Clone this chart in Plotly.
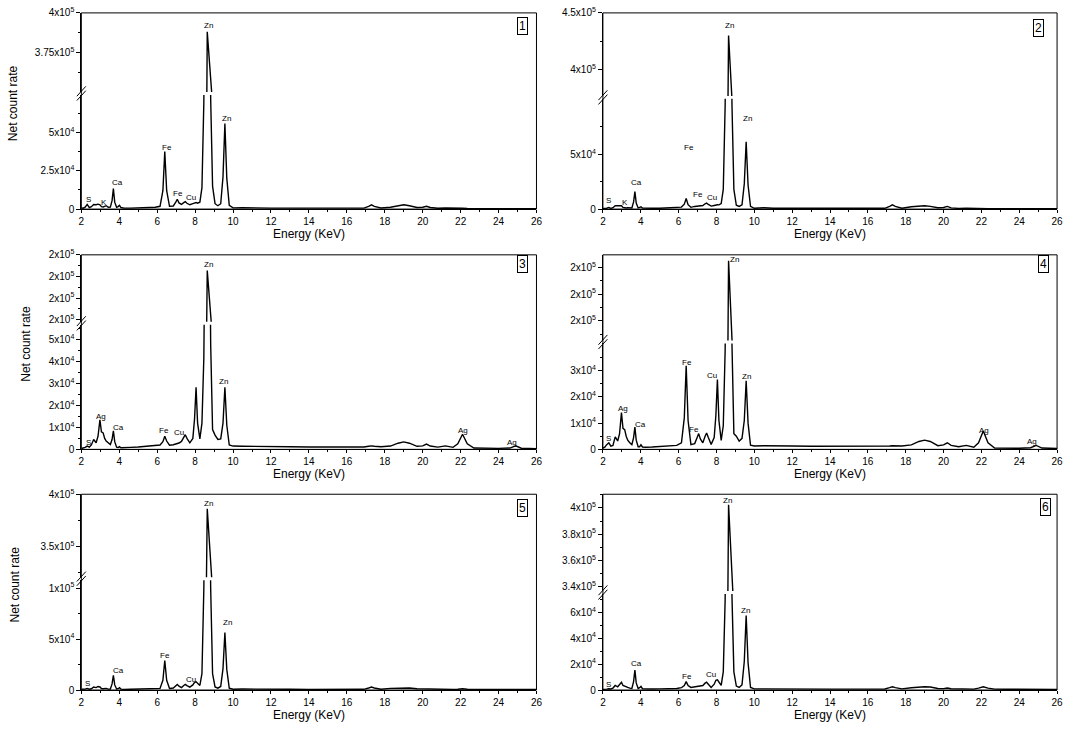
import plotly.graph_objects as go

# ---------------- data ----------------
energy = [2.00, 2.10, 2.20, 2.31, 2.42, 2.53, 2.65, 2.78, 2.88, 2.98,
          3.06, 3.15, 3.23, 3.31, 3.42, 3.53, 3.62, 3.69, 3.76, 3.86,
          3.94, 4.01, 4.09, 4.25, 4.60, 5.00, 5.50, 5.90, 6.15, 6.30,
          6.40, 6.50, 6.65, 6.85, 6.98, 7.06, 7.15, 7.28, 7.40, 7.48,
          7.57, 7.72, 7.88, 7.97, 8.05, 8.13, 8.25, 8.36, 8.46, 8.55,
          8.64, 8.73, 8.82, 8.92, 9.05, 9.20, 9.35, 9.47, 9.57, 9.67,
          9.80, 10.0, 10.5, 11.0, 12.0, 13.0, 14.0, 15.0, 16.0, 16.9,
          17.15, 17.3, 17.45, 17.8, 18.3, 18.7, 19.0, 19.3, 19.7, 20.0,
          20.2, 20.4, 20.8, 21.2, 21.6, 21.85, 22.1, 22.35, 22.7, 23.3,
          24.0, 24.6, 24.9, 25.2, 26.0]

counts_1 = [800, 600, 1200, 3000, 1000, 1500, 3000, 2800, 3200, 2800,
            1600, 1400, 1800, 2200, 1200, 1300, 5500, 13300, 4500, 1200,
            1600, 2400, 1000, 600, 600, 700, 800, 1200, 1800, 12000,
            37500, 12000, 1800, 2000, 4500, 6400, 4000, 3000, 4200, 4900,
            3800, 2800, 3500, 4200, 4300, 3800, 4500, 14000, 70000, 230000,
            388000, 230000, 72000, 15000, 3500, 2200, 3500, 21000, 55800, 20000,
            2500, 800, 900, 700, 600, 600, 500, 600, 500, 600,
            1800, 2800, 1800, 700, 1200, 2200, 2800, 2200, 1000, 1200,
            1800, 1000, 500, 700, 400, 400, 500, 400, 300, 300,
            300, 300, 300, 300, 300]

counts_2 = [600, 500, 800, 1500, 600, 1200, 3000, 3000, 2800, 3000,
            1500, 1000, 1000, 1300, 800, 1000, 6500, 16000, 5500, 1000,
            1500, 2100, 900, 700, 700, 800, 1200, 1500, 1800, 4500,
            9700, 4000, 1600, 2400, 2800, 3000, 2800, 3200, 4800, 5400,
            4200, 2700, 3300, 3800, 3900, 3800, 5000, 18000, 95000, 260000,
            430000, 260000, 95000, 18000, 3500, 2400, 3800, 23000, 61500, 22000,
            2500, 700, 1200, 800, 700, 700, 600, 700, 600, 700,
            2500, 3900, 2500, 800, 2100, 2600, 3000, 2500, 1200, 1400,
            2400, 1100, 600, 900, 500, 400, 500, 400, 300, 300,
            300, 300, 300, 300, 300]

counts_3 = [400, 500, 900, 1500, 1000, 2000, 4500, 3000, 6000, 13500,
            8000, 7500, 5000, 3800, 3000, 2200, 4500, 8500, 3500, 1000,
            800, 1200, 700, 700, 900, 1100, 1400, 1700, 2000, 3500,
            6000, 3800, 1900, 2100, 2400, 2600, 2900, 3600, 5800, 6700,
            5000, 3000, 5000, 14000, 28400, 12000, 4800, 12000, 42000, 140000,
            212700, 140000, 48000, 9000, 6500, 4500, 4800, 12000, 28400, 11000,
            2000, 1500, 1400, 1300, 1200, 1200, 1100, 1100, 1000, 1100,
            1400, 1600, 1400, 1200, 1500, 2800, 3400, 2800, 1400, 1600,
            2400, 1500, 1000, 1600, 900, 2500, 6900, 2500, 600, 450,
            450, 600, 1600, 500, 300]

counts_4 = [500, 800, 1800, 2500, 1200, 1500, 4750, 3200, 6000, 14000,
            8000, 7500, 5000, 3500, 2500, 1800, 4500, 8500, 3500, 1000,
            1000, 1750, 900, 800, 900, 1000, 1200, 1500, 2500, 12000,
            31900, 11000, 1800, 2200, 4500, 6000, 4000, 2500, 5000, 6250,
            4500, 1900, 4500, 13000, 26600, 11000, 3400, 9000, 38000, 140000,
            222500, 140000, 40000, 6000, 5000, 3100, 4200, 11000, 26200, 10000,
            1600, 1300, 1400, 1300, 1300, 1200, 1200, 1200, 1100, 1100,
            1300, 1400, 1300, 1300, 1700, 3000, 3500, 3000, 1400, 1700,
            2500, 1500, 1000, 1500, 800, 2500, 7000, 2500, 500, 400,
            400, 600, 1500, 500, 300]

counts_5 = [700, 500, 900, 1600, 800, 1200, 2900, 2400, 3500, 3000,
            1500, 1300, 1400, 1600, 900, 1000, 6000, 14500, 5000, 1000,
            1300, 2260, 900, 600, 700, 800, 1000, 1100, 1600, 9500,
            29000, 9500, 1600, 2000, 4200, 5500, 3800, 2400, 4500, 5500,
            4300, 2800, 5000, 7500, 8000, 6500, 4500, 16000, 100000, 260000,
            386000, 260000, 100000, 16000, 3000, 1800, 3500, 21000, 56500, 20000,
            1800, 800, 1000, 800, 700, 700, 600, 600, 600, 700,
            2000, 2900, 2000, 800, 1600, 2000, 2250, 2000, 1200, 1000,
            1300, 900, 700, 700, 600, 800, 1300, 800, 600, 600,
            600, 600, 600, 600, 500]

counts_6 = [500, 400, 700, 1000, 800, 1500, 3500, 2500, 4500, 6000,
            3500, 2800, 2500, 2000, 1500, 1200, 6500, 15400, 5500, 1200,
            1800, 2800, 1000, 800, 800, 900, 1000, 1200, 1800, 3500,
            6500, 3500, 2000, 2400, 2700, 2800, 2900, 3500, 5300, 6000,
            4500, 2000, 4500, 7500, 7800, 6000, 3500, 14000, 70000, 250000,
            402500, 250000, 72000, 14000, 3000, 2000, 4000, 22000, 57500, 21000,
            2000, 900, 900, 800, 800, 800, 700, 700, 700, 800,
            1800, 2500, 1800, 900, 1800, 2300, 2500, 2300, 1200, 1100,
            1500, 1000, 800, 1000, 700, 1500, 2500, 1500, 700, 600,
            600, 600, 700, 600, 500]

all_counts = [counts_1, counts_2, counts_3, counts_4, counts_5, counts_6]
for c in all_counts:
    assert len(c) == len(energy), len(c)

# axis ranges of the broken axes
lower_range = [[0, 74500], [0, 100700], [0, 56900], [0, 40400], [0, 107800], [0, 74100]]
upper_range = [[350000, 400000], [376300, 450000], [189000, 220000],
               [192600, 224700], [320300, 400000], [336600, 410500]]

# tick values / labels
lower_ticks = [[0, 25000, 50000], [0, 50000], [0, 10000, 20000, 30000, 40000, 50000],
               [0, 10000, 20000, 30000], [0, 50000, 100000], [0, 20000, 40000, 60000]]
lower_text = [["0", "2.5x10<sup>4</sup>", "5x10<sup>4</sup>"],
              ["0", "5x10<sup>4</sup>"],
              ["0", "1x10<sup>4</sup>", "2x10<sup>4</sup>", "3x10<sup>4</sup>", "4x10<sup>4</sup>", "5x10<sup>4</sup>"],
              ["0", "1x10<sup>4</sup>", "2x10<sup>4</sup>", "3x10<sup>4</sup>"],
              ["0", "5x10<sup>4</sup>", "1x10<sup>5</sup>"],
              ["0", "2x10<sup>4</sup>", "4x10<sup>4</sup>", "6x10<sup>4</sup>"]]
lower_minor = [[12500, 37500, 62500], [25000, 75000],
               [5000, 15000, 25000, 35000, 45000, 55000],
               [5000, 15000, 25000, 35000], [25000, 75000],
               [10000, 30000, 50000, 70000]]
upper_ticks = [[375000, 400000], [400000, 450000], [190000, 200000, 210000, 220000],
               [200000, 210000, 220000], [350000, 400000], [340000, 360000, 380000, 400000]]
upper_text = [["3.75x10<sup>5</sup>", "4x10<sup>5</sup>"],
              ["4x10<sup>5</sup>", "4.5x10<sup>5</sup>"],
              ["2x10<sup>5</sup>"] * 4,
              ["2x10<sup>5</sup>"] * 3,
              ["3.5x10<sup>5</sup>", "4x10<sup>5</sup>"],
              ["3.4x10<sup>5</sup>", "3.6x10<sup>5</sup>", "3.8x10<sup>5</sup>", "4x10<sup>5</sup>"]]
upper_minor = [[362500, 387500], [425000], [195000, 205000, 215000],
               [195000, 205000, 215000], [325000, 375000],
               [350000, 370000, 390000, 410000]]

x_ticks = list(range(2, 27, 2))
x_minor = list(range(3, 26, 2))

# peak labels: (panel, text, energy, value, segment)
peak_labels = [
    (0, "Zn", 8.73, 392000, "up"), (0, "Zn", 9.67, 59200, "lo"), (0, "Fe", 6.54, 40000, "lo"),
    (0, "Ca", 3.89, 17100, "lo"), (0, "S", 2.36, 6200, "lo"), (0, "K", 3.20, 4100, "lo"),
    (0, "Fe", 7.10, 10000, "lo"), (0, "Cu", 7.78, 7300, "lo"),
    (1, "Zn", 8.70, 438700, "up"), (1, "Zn", 9.62, 83000, "lo"), (1, "Fe", 6.54, 56000, "lo"),
    (1, "Ca", 3.76, 24500, "lo"), (1, "S", 2.32, 8100, "lo"), (1, "K", 3.17, 5700, "lo"),
    (1, "Fe", 7.05, 13500, "lo"), (1, "Cu", 7.74, 10200, "lo"),
    (2, "Zn", 8.73, 215500, "up"), (2, "Zn", 9.52, 30800, "lo"), (2, "Fe", 6.34, 8400, "lo"),
    (2, "Cu", 7.15, 7600, "lo"), (2, "Ag", 3.04, 15100, "lo"), (2, "Ca", 3.97, 9900, "lo"),
    (2, "S", 2.40, 3100, "lo"), (2, "Ag", 22.10, 8700, "lo"), (2, "Ag", 24.70, 3100, "lo"),
    (3, "Zn", 8.97, 222800, "up"), (3, "Fe", 6.45, 33250, "lo"), (3, "Cu", 7.78, 28250, "lo"),
    (3, "Zn", 9.59, 27900, "lo"), (3, "Ag", 3.06, 15400, "lo"), (3, "Ca", 4.00, 9500, "lo"),
    (3, "Fe", 6.80, 7600, "lo"), (3, "S", 2.27, 4250, "lo"), (3, "Ag", 22.12, 7250, "lo"),
    (3, "Ag", 24.70, 2900, "lo"),
    (4, "Zn", 8.73, 391000, "up"), (4, "Zn", 9.70, 66100, "lo"), (4, "Fe", 6.42, 33900, "lo"),
    (4, "Ca", 3.97, 19400, "lo"), (4, "S", 2.30, 6450, "lo"), (4, "Cu", 7.78, 10300, "lo"),
    (5, "Zn", 8.56, 405500, "up"), (5, "Zn", 9.55, 61200, "lo"), (5, "Ca", 3.76, 20400, "lo"),
    (5, "Fe", 6.45, 10300, "lo"), (5, "Cu", 7.73, 11600, "lo"), (5, "S", 2.32, 4000, "lo"),
]
panel_names = ["1", "2", "3", "4", "5", "6"]

# ---------------- layout geometry (pixels) ----------------
W, H = 1072, 736
cols = [(79.0, 538.0), (605.0, 1063.0)]
rows = [(6.0, 205.7), (252.3, 450.3), (496.0, 695.3)]
breaks = [88.0, 92.0, 322.0, 341.0, 582.0, 596.0]
gap = 3.0
num_pos = [(524, 19), (1044, 21), (524, 262), (1049, 262), (524, 510), (1051, 509)]
ytitle_pos = [(10, 98), (23, 343), (12, 588)]

FONT = "Liberation Sans, Arial, sans-serif"


def px(x):
    return x / W


def py(y):
    return 1 - y / H


fig = go.Figure()
shapes = []
annotations = []
layout = {}

for i in range(6):
    r, c = divmod(i, 2)
    x0, x1 = cols[c]
    top, bot = rows[r]
    brk = breaks[i]
    xname = "x" if i == 0 else f"x{i + 1}"
    xkey = "xaxis" if i == 0 else f"xaxis{i + 1}"
    lo_n, up_n = 2 * i + 1, 2 * i + 2
    ylo = "y" if lo_n == 1 else f"y{lo_n}"
    ylo_key = "yaxis" if lo_n == 1 else f"yaxis{lo_n}"
    yup = f"y{up_n}"
    yup_key = f"yaxis{up_n}"

    for yn in (ylo, yup):
        fig.add_trace(go.Scatter(x=energy, y=all_counts[i], xaxis=xname, yaxis=yn,
                                 mode="lines", line=dict(color="black", width=1.4),
                                 showlegend=False, hoverinfo="skip"))

    common = dict(showgrid=False, zeroline=False, showline=True, linecolor="black",
                  linewidth=1, ticks="outside", tickwidth=1, tickcolor="black",
                  tickfont=dict(family=FONT, size=10, color="black"))
    layout[xkey] = dict(common, domain=[px(x0), px(x1)], anchor=ylo, range=[2, 26],
                        ticklen=3, tickmode="array", tickvals=x_ticks,
                        minor=dict(tickmode="array", tickvals=x_minor, ticklen=2,
                                   ticks="outside", tickcolor="black"))
    layout[ylo_key] = dict(common, domain=[py(bot), py(brk + gap / 2)], anchor=xname,
                           ticklen=4, range=lower_range[i], tickmode="array",
                           tickvals=lower_ticks[i], ticktext=lower_text[i],
                           minor=dict(tickmode="array", tickvals=lower_minor[i], ticklen=2,
                                      ticks="outside", tickcolor="black"))
    layout[yup_key] = dict(common, domain=[py(brk - gap / 2), py(top)], anchor=xname,
                           ticklen=4, range=upper_range[i], tickmode="array",
                           tickvals=upper_ticks[i], ticktext=upper_text[i],
                           minor=dict(tickmode="array", tickvals=upper_minor[i], ticklen=2,
                                      ticks="outside", tickcolor="black"))

    # frame
    shapes.append(dict(type="rect", xref="paper", yref="paper", x0=px(x0), x1=px(x1),
                       y0=py(bot), y1=py(top), line=dict(color="black", width=1)))
    # break marks //
    for d in (-2.2, 2.2):
        shapes.append(dict(type="line", xref="paper", yref="paper",
                           x0=px(x0 - 4.5), y0=py(brk + 5 + d), x1=px(x0 + 4.5), y1=py(brk - 5 + d),
                           line=dict(color="black", width=1)))
    # panel number
    nx, ny = num_pos[i]
    annotations.append(dict(xref="paper", yref="paper", x=px(nx), y=py(ny), text=panel_names[i],
                            showarrow=False, font=dict(family=FONT, size=12, color="black"),
                            bordercolor="black", borderwidth=1, borderpad=1,
                            xanchor="center", yanchor="middle"))
    # x title
    annotations.append(dict(xref="paper", yref="paper", x=px((x0 + x1) / 2), y=py(bot + 25),
                            text="Energy (KeV)", showarrow=False,
                            font=dict(family=FONT, size=12, color="black"),
                            xanchor="center", yanchor="middle"))

for r in range(3):
    tx, ty = ytitle_pos[r]
    annotations.append(dict(xref="paper", yref="paper", x=px(tx), y=py(ty), text="Net count rate",
                            textangle=-90, showarrow=False,
                            font=dict(family=FONT, size=12, color="black"),
                            xanchor="center", yanchor="middle"))

for (p, txt, e, v, seg) in peak_labels:
    xname = "x" if p == 0 else f"x{p + 1}"
    yn = (2 * p + 1) if seg == "lo" else (2 * p + 2)
    yname = "y" if yn == 1 else f"y{yn}"
    annotations.append(dict(xref=xname, yref=yname, x=e, y=v, text=txt, showarrow=False,
                            font=dict(family=FONT, size=8, color="black"),
                            xanchor="center", yanchor="middle"))

fig.update_layout(width=W, height=H, margin=dict(l=0, r=0, t=0, b=0),
                  paper_bgcolor="white", plot_bgcolor="white", showlegend=False,
                  shapes=shapes, annotations=annotations, **layout)

fig.write_html("out.html", config={"displayModeBar": False},
               post_script="document.body.style.margin='0';document.body.style.overflow='hidden';")
